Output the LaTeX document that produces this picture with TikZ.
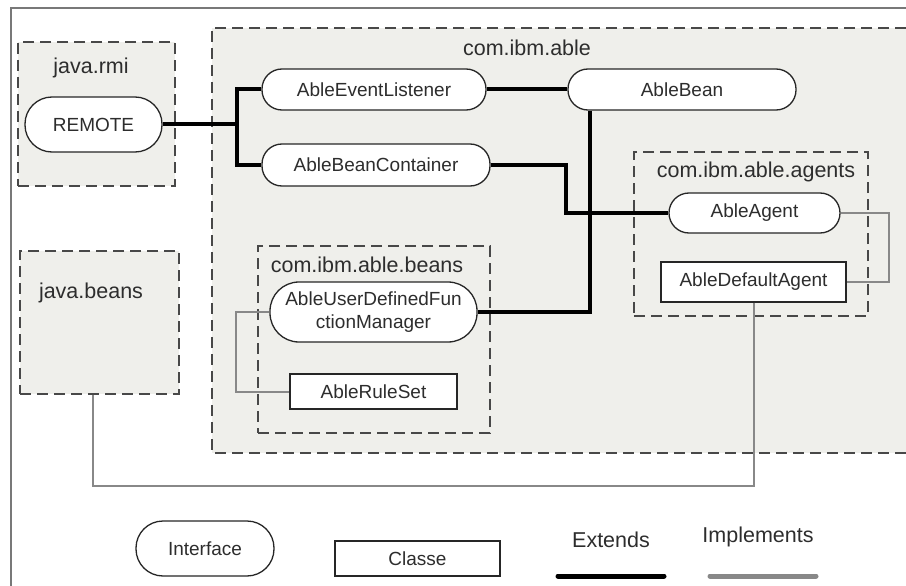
\documentclass[tikz,border=0pt]{standalone}
\usepackage{fontspec}
\setmainfont{Liberation Sans}
\definecolor{pkgfill}{RGB}{239,239,235}
\definecolor{pkgline}{RGB}{72,72,72}
\definecolor{txt}{RGB}{45,45,45}
\definecolor{impl}{RGB}{136,136,136}
\definecolor{frame}{RGB}{120,120,120}
\begin{document}
\begin{tikzpicture}[x=1pt,y=-1pt,
  pkg/.style={draw=pkgline,fill=pkgfill,line width=2.3pt,dash pattern=on 11pt off 6pt},
  pkglabel/.style={text=txt,font=\fontsize{21.5}{24}\selectfont,inner sep=0pt},
  iface/.style={draw=black!85,fill=white,line width=1.3pt,text=txt,font=\fontsize{19}{23}\selectfont,align=center,inner sep=0pt},
  klass/.style={draw=black!85,fill=white,line width=1.3pt,text=txt,font=\fontsize{19}{23}\selectfont,inner sep=0pt},
  extl/.style={line width=4pt,black},
  impll/.style={line width=2pt,impl},
  legtext/.style={text=txt,font=\fontsize{21.5}{24}\selectfont,inner sep=0pt}]
\useasboundingbox (0,0) rectangle (906,586);
% outer frame
\draw[frame,line width=2.8pt] (11,586) -- (11,8) -- (906,8);
% packages
\node[pkg,minimum width=157pt,minimum height=144pt,inner sep=0pt] (rmi) at (96.5,114) {};
\node[pkg,minimum width=159pt,minimum height=143pt,inner sep=0pt] (jb) at (99.5,322.5) {};
\fill[pkgfill] (212,28) rectangle (906,453);
\draw[pkgline,line width=2.3pt,dash pattern=on 11pt off 6pt] (906,28) -- (212,28) -- (212,453) -- (906,453);
\node[pkg,minimum width=232pt,minimum height=187pt,inner sep=0pt] (beans) at (374,339.5) {};
\node[pkg,minimum width=234pt,minimum height=164pt,inner sep=0pt] (agents) at (751,234) {};
% package labels
\node[pkglabel] (lrmi) at (91,68) {java.rmi};
\node[pkglabel] (ljb) at (91,293) {java.beans};
\node[pkglabel] (lable) at (527,48) {com.ibm.able};
\node[pkglabel] (lbeans) at (367,265) {com.ibm.able.beans};
\node[pkglabel] (lagents) at (756,172) {com.ibm.able.agents};
% nodes
\node[iface,minimum width=137pt,minimum height=55pt,rounded corners=27pt] (remote) at (93.5,124.5) {REMOTE};
\node[iface,minimum width=224pt,minimum height=41pt,rounded corners=20pt] (ael) at (374,89.5) {AbleEventListener};
\node[iface,minimum width=228pt,minimum height=42pt,rounded corners=20pt] (abc) at (376,165) {AbleBeanContainer};
\node[iface,minimum width=228pt,minimum height=41pt,rounded corners=20pt] (ab) at (682,89.5) {AbleBean};
\node[iface,minimum width=171pt,minimum height=40pt,rounded corners=20pt] (aa) at (754.5,213) {AbleAgent};
\node[klass,minimum width=185pt,minimum height=40pt] (ada) at (753.5,282) {AbleDefaultAgent};
\node[iface,minimum width=207pt,minimum height=60pt,rounded corners=29pt] (udfm) at (373.5,312) {AbleUserDefinedFun\\ctionManager};
\node[klass,minimum width=167pt,minimum height=35pt] (ars) at (373.5,391.5) {AbleRuleSet};
% coordinates
\coordinate (bus) at (237,124.5);
\coordinate (bend) at (566,213);
\coordinate (abv) at (590,0);
\coordinate (jbb) at (93,486);
% extends
\draw[extl] (remote.east) -- (bus);
\draw[extl] (ael.west) -| (bus) |- (abc.west);
\draw[extl] (ael.east) -- (ab.west);
\draw[extl] (abc.east) -| (bend) -- (aa.west);
\draw[extl] (abv |- ab.south) |- (udfm.east);
% implements
\draw[impll] (aa.east) -- ++(48,0) |- (ada.east);
\draw[impll] (udfm.west) -- ++(-33,0) |- (ars.west);
\draw[impll] (ada.south) |- (jbb) -- (jbb |- jb.south);
% legend
\node[iface,minimum width=138pt,minimum height=55pt,rounded corners=27pt] (lint) at (205,548.5) {Interface};
\node[klass,minimum width=165pt,minimum height=35pt] (lcls) at (417.5,558.5) {Classe};
\node[legtext] (lext) at (611,540) {Extends};
\node[legtext] (limp) at (758,537) {Implements};
\coordinate (e1) at (558,576);
\coordinate (e2) at (664,576);
\coordinate (i1) at (710,576);
\coordinate (i2) at (816,576);
\draw[line width=5pt,black,line cap=round] (e1) -- (e2);
\draw[line width=5pt,impl,line cap=round] (i1) -- (i2);
\end{tikzpicture}
\end{document}
